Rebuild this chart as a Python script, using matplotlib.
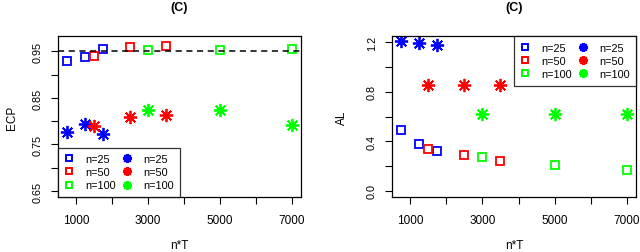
import matplotlib
matplotlib.use('Agg')
import matplotlib.pyplot as plt
from matplotlib.lines import Line2D

plt.rcParams['font.family'] = ['Liberation Sans', 'DejaVu Sans']

# 数据: n*T 取值
nT_25 = [750, 1250, 1750]
nT_50 = [1500, 2500, 3500]
nT_100 = [3000, 5000, 7000]

# ECP (方形 = 方法1, 星号 = 方法2)
ecp_sq_25 = [0.929, 0.938, 0.954]
ecp_sq_50 = [0.940, 0.959, 0.961]
ecp_sq_100 = [0.953, 0.952, 0.954]
ecp_st_25 = [0.776, 0.794, 0.772]
ecp_st_50 = [0.790, 0.809, 0.813]
ecp_st_100 = [0.824, 0.824, 0.791]

# AL
al_sq_25 = [0.488, 0.380, 0.318]
al_sq_50 = [0.340, 0.291, 0.237]
al_sq_100 = [0.270, 0.210, 0.170]
al_st_25 = [1.208, 1.195, 1.181]
al_st_50 = [0.855, 0.855, 0.855]
al_st_100 = [0.620, 0.620, 0.620]

labels = ['n=25', 'n=50', 'n=100']
colors = ['#0000FF', '#FF0000', '#00FF00']
star = (8, 2, 0)

W, H = 640, 253
fig = plt.figure(figsize=(6.4, 2.53), dpi=100)
ax1 = fig.add_axes([58 / W, 55 / H, 243 / W, 161 / H])
ax2 = fig.add_axes([392 / W, 55 / H, 244 / W, 161 / H])

xs = [nT_25, nT_50, nT_100]
panels = [
    (ax1, [ecp_sq_25, ecp_sq_50, ecp_sq_100], [ecp_st_25, ecp_st_50, ecp_st_100], 'ECP', 12),
    (ax2, [al_sq_25, al_sq_50, al_sq_100], [al_st_25, al_st_50, al_st_100], 'AL', 342),
]

for ax, sq, st, ylab, ylx in panels:
    for x, y, c in zip(xs, sq, colors):
        ax.plot(x, y, ls='none', marker='s', ms=5.4, mfc='none', mec=c, mew=1.3)
    for x, y, c in zip(xs, st, colors):
        ax.plot(x, y, ls='none', marker=star, ms=9.5, mec=c, mew=1.3)
    ax.set_xlim(500, 7250)
    ax.set_xticks(range(1000, 8000, 1000))
    ax.set_xticklabels(['1000', '', '3000', '', '5000', '', '7000'])
    ax.tick_params(direction='out', length=5, width=0.8, labelsize=8.5, pad=7)
    ax.tick_params(axis='y', labelsize=7.8, pad=6)
    for s in ax.spines.values():
        s.set_linewidth(0.9)
    # 标题和坐标轴标签
    bb = ax.get_position()
    cx = (bb.x0 + bb.x1) / 2
    fig.text(cx, 1 - 8.5 / H, '(C)', fontsize=9, fontweight='bold', ha='center', va='center')
    fig.text(cx, 1 / H, 'n*T', fontsize=8.5, ha='center', va='bottom')
    fig.text(ylx / W, (bb.y0 + bb.y1) / 2, ylab, fontsize=8.5, rotation=90,
             ha='center', va='center')

ax1.axhline(0.95, ls='--', dashes=(4, 3), color='black', lw=1.1)
ax1.set_ylim(0.637, 0.983)
ax1.set_yticks([0.65, 0.70, 0.75, 0.80, 0.85, 0.90, 0.95])
ax1.set_yticklabels(['0.65', '', '0.75', '', '0.85', '', '0.95'], rotation=90, va='center')

ax2.set_ylim(-0.05, 1.25)
ax2.set_yticks([0.0, 0.2, 0.4, 0.6, 0.8, 1.0, 1.2])
ax2.set_yticklabels(['0.0', '', '0.4', '', '0.8', '', '1.2'], rotation=90, va='center')

handles = [Line2D([], [], ls='none', marker='s', ms=3.8, mfc='none', mec=c, mew=1.4) for c in colors]
handles += [Line2D([], [], ls='none', marker=star, ms=6.5, mec=c, mew=1.5) for c in colors]
leg_labels = labels + labels

for ax, loc in [(ax1, 'lower left'), (ax2, 'upper right')]:
    leg = ax.legend(handles, leg_labels, loc=loc, ncol=2, fontsize=7.8, frameon=True,
                    fancybox=False, borderaxespad=0, labelspacing=0.3,
                    handlelength=0.9, handletextpad=1.0, columnspacing=0.6,
                    borderpad=0.6)
    leg.get_frame().set_edgecolor('black')
    leg.get_frame().set_linewidth(0.9)

fig.savefig('out.png', dpi=100)
